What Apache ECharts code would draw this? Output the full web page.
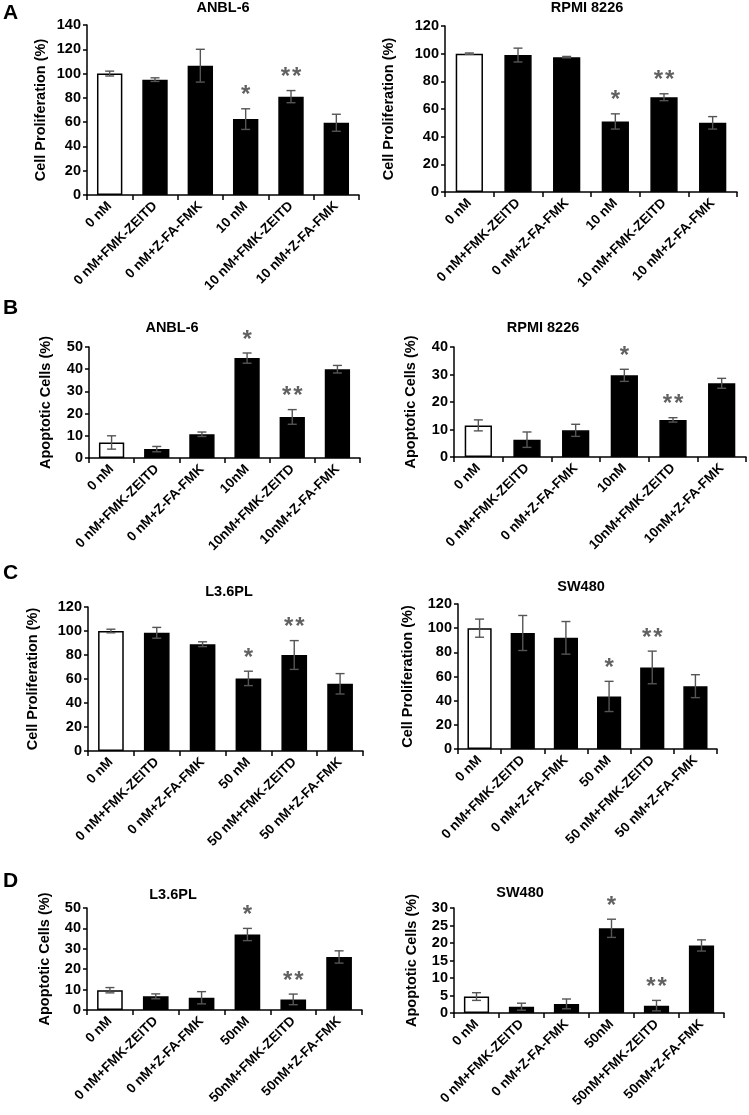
<!DOCTYPE html>
<html><head><meta charset="utf-8">
<script src="https://cdn.jsdelivr.net/npm/echarts@6/dist/echarts.min.js"></script>
<style>html,body{margin:0;padding:0;background:#fff}#c{width:749px;height:1115px}</style>
</head><body><div id="c"></div>
<script>
// ---------- DATA ----------
const catsA = ["0 nM","0 nM+FMK-ZEITD","0 nM+Z-FA-FMK","10 nM","10 nM+FMK-ZEITD","10 nM+Z-FA-FMK"];
const catsB = ["0 nM","0 nM+FMK-ZEITD","0 nM+Z-FA-FMK","10nM","10nM+FMK-ZEITD","10nM+Z-FA-FMK"];
const catsC = ["0 nM","0 nM+FMK-ZEITD","0 nM+Z-FA-FMK","50 nM","50 nM+FMK-ZEITD","50 nM+Z-FA-FMK"];
const catsD = ["0 nM","0 nM+FMK-ZEITD","0 nM+Z-FA-FMK","50nM","50nM+FMK-ZEITD","50nM+Z-FA-FMK"];

const anbl6Prolif    = [100, 95, 106.5, 62.5, 81, 59.5];
const anbl6ProlifErr = [2, 1.5, 13.5, 8.5, 5, 7];
const rpmiProlif     = [100, 99, 97.5, 51, 68.5, 50];
const rpmiProlifErr  = [0.5, 5, 0.5, 5.5, 2.5, 4.5];
const anbl6Apop      = [7, 4, 10.7, 45, 18.5, 40];
const anbl6ApopErr   = [3, 1.2, 1, 2.3, 3.3, 1.7];
const rpmiApop       = [11.5, 6.3, 9.7, 29.7, 13.5, 26.8];
const rpmiApopErr    = [2, 2.8, 2.2, 2.2, 0.8, 1.8];
const l36Prolif      = [100, 98.5, 89, 60.5, 80, 56];
const l36ProlifErr   = [1.5, 4.5, 2, 6, 12, 8.5];
const swProlif       = [100, 96, 92, 43.5, 67.5, 52];
const swProlifErr    = [7.5, 14.5, 13.5, 12.5, 13.5, 9.5];
const l36Apop        = [9.7, 6.7, 6, 37, 5.2, 26];
const l36ApopErr     = [1.3, 1.2, 3, 3, 2.6, 3];
const swApop         = [4.7, 1.8, 2.6, 24.2, 2.1, 19.3];
const swApopErr      = [1.1, 1, 1.4, 2.6, 1.5, 1.6];

const starMarks = ["", "", "", "*", "**", ""];
const titles = ["ANBL-6", "RPMI 8226", "ANBL-6", "RPMI 8226", "L3.6PL", "SW480", "L3.6PL", "SW480"];
const yNames = ["Cell Proliferation (%)", "Apoptotic Cells (%)"];
const yMax = [140, 120, 50, 40, 120, 120, 50, 30];
const yStep = [20, 20, 10, 10, 20, 20, 10, 5];
const panelLetters = ["A", "B", "C", "D"];

// ---------- PANELS ----------
const panels = [
  {cats: catsA, vals: anbl6Prolif, errs: anbl6ProlifErr, yName: yNames[0]},
  {cats: catsA, vals: rpmiProlif,  errs: rpmiProlifErr,  yName: yNames[0]},
  {cats: catsB, vals: anbl6Apop,   errs: anbl6ApopErr,   yName: yNames[1]},
  {cats: catsB, vals: rpmiApop,    errs: rpmiApopErr,    yName: yNames[1]},
  {cats: catsC, vals: l36Prolif,   errs: l36ProlifErr,   yName: yNames[0]},
  {cats: catsC, vals: swProlif,    errs: swProlifErr,    yName: yNames[0]},
  {cats: catsD, vals: l36Apop,     errs: l36ApopErr,     yName: yNames[1]},
  {cats: catsD, vals: swApop,      errs: swApopErr,      yName: yNames[1]}
];
// layout (pixels)
const layout = [
  {left: 87,  top: 25,  width: 272, height: 170, tx: 223, ty: 8,   ng: 39},
  {left: 445, top: 26,  width: 292, height: 166, tx: 587, ty: 8,   ng: 49},
  {left: 89,  top: 347, width: 271, height: 111, tx: 172, ty: 328, ng: 36},
  {left: 454, top: 347, width: 292, height: 110, tx: 543, ty: 328, ng: 36},
  {left: 88,  top: 607, width: 275, height: 144, tx: 229, ty: 592, ng: 48},
  {left: 458, top: 604, width: 259, height: 145, tx: 581, ty: 587, ng: 43},
  {left: 87,  top: 908, width: 275, height: 102, tx: 173, ty: 895, ng: 35},
  {left: 454, top: 908, width: 270, height: 105, tx: 520, ty: 893, ng: 35}
];
const letterPos = [{x: 3, y: 13}, {x: 3, y: 308}, {x: 3, y: 573}, {x: 3, y: 881}];

const FONT = '"Liberation Sans", Arial, Helvetica, sans-serif';

const grid = [], xAxis = [], yAxis = [], series = [], graphic = [];
panels.forEach((p, i) => {
  const L = layout[i];
  grid.push({left: L.left, top: L.top, width: L.width, height: L.height, containLabel: false});
  xAxis.push({
    type: 'category', gridIndex: i, data: p.cats,
    axisLine: {show: true, lineStyle: {color: '#000', width: 1.5}},
    axisTick: {show: true, length: 5, lineStyle: {color: '#000', width: 1.5}},
    axisLabel: {rotate: 45, interval: 0, fontSize: 13.5, fontWeight: 'bold', color: '#000', margin: 9, fontFamily: FONT},
    splitLine: {show: false}
  });
  yAxis.push({
    type: 'value', gridIndex: i, min: 0, max: yMax[i], interval: yStep[i],
    axisLine: {show: true, lineStyle: {color: '#000', width: 1.5}},
    axisTick: {show: true, length: 4, lineStyle: {color: '#000', width: 1.5}},
    axisLabel: {fontSize: 14.5, fontWeight: 'bold', color: '#000', margin: 6, fontFamily: FONT},
    splitLine: {show: false},
    name: p.yName, nameLocation: 'middle', nameGap: L.ng,
    nameTextStyle: {fontSize: 14.5, fontWeight: 'bold', color: '#000', fontFamily: FONT}
  });
  series.push({
    type: 'bar', xAxisIndex: i, yAxisIndex: i, barWidth: '56%',
    data: p.vals.map((v, k) => ({value: v, itemStyle: {color: k === 0 ? '#fff' : '#000'}})),
    itemStyle: {borderColor: '#000', borderWidth: 1.5},
    silent: true, animation: false
  });
  series.push({
    type: 'custom', xAxisIndex: i, yAxisIndex: i, animation: false, silent: true, z: 10,
    data: p.vals.map((v, k) => [k, v - p.errs[k], v + p.errs[k]]),
    renderItem: function (params, api) {
      const x = api.value(0);
      const lo = api.coord([x, api.value(1)]);
      const hi = api.coord([x, api.value(2)]);
      const hw = 4.5;
      const st = {stroke: '#555', lineWidth: 1.4};
      return {type: 'group', children: [
        {type: 'line', shape: {x1: lo[0], y1: lo[1], x2: hi[0], y2: hi[1]}, style: st},
        {type: 'line', shape: {x1: hi[0] - hw, y1: hi[1], x2: hi[0] + hw, y2: hi[1]}, style: st},
        {type: 'line', shape: {x1: lo[0] - hw, y1: lo[1], x2: lo[0] + hw, y2: lo[1]}, style: st}
      ]};
    }
  });
  series.push({
    type: 'scatter', xAxisIndex: i, yAxisIndex: i, symbolSize: 0, animation: false, silent: true,
    data: starMarks.map((s, k) => s ? {value: [k, p.vals[k] + p.errs[k]], star: s} : null).filter(Boolean),
    label: {show: true, position: 'top', distance: 1, formatter: (d) => d.data.star.split('').join('\u200A'),
            fontSize: 24, fontWeight: 'bold', color: '#3a3a3a', fontFamily: FONT}
  });
  graphic.push({type: 'text', x: L.tx, y: L.ty,
    style: {text: titles[i], font: 'bold 14.5px ' + FONT, fill: '#000',
            textAlign: 'center', textVerticalAlign: 'middle'}});
});
panelLetters.forEach((t, j) => {
  graphic.push({type: 'text', x: letterPos[j].x, y: letterPos[j].y,
    style: {text: t, font: 'bold 21px ' + FONT, fill: '#000', textAlign: 'left', textVerticalAlign: 'middle'}});
});

const chart = echarts.init(document.getElementById('c'), null, {renderer: 'canvas'});
chart.setOption({animation: false, backgroundColor: '#fff', grid, xAxis, yAxis, series, graphic});
</script></body></html>
